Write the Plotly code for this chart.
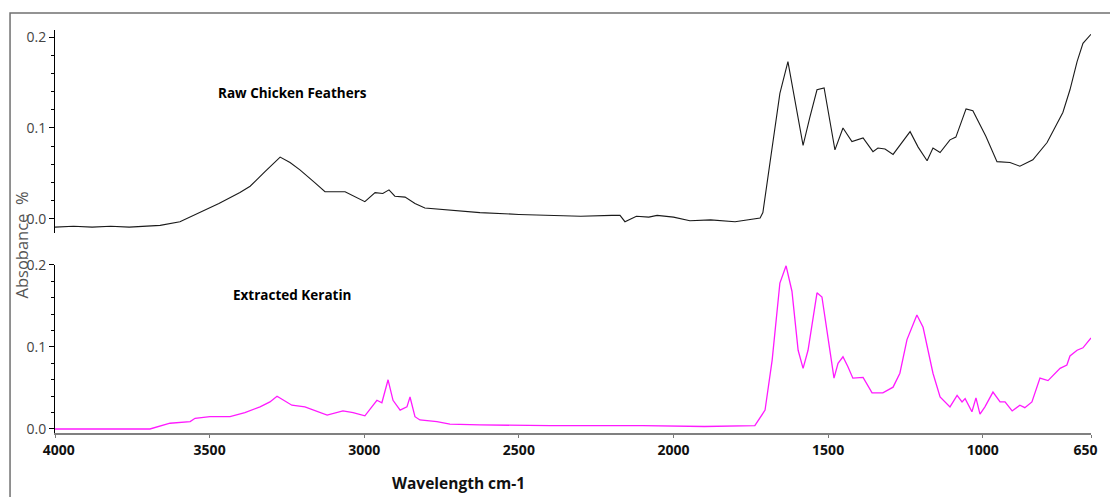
import plotly.graph_objects as go

# ---- Data ----
raw_wn = [4000, 3940, 3880, 3820, 3760, 3700, 3660, 3596, 3531, 3470, 3402, 3369, 3321, 3272,
          3240, 3208, 3160, 3127, 3062, 2998, 2965, 2940, 2920, 2901, 2868, 2836, 2804, 2723,
          2626, 2500, 2399, 2300, 2200, 2173, 2157, 2120, 2080, 2053, 2000, 1947, 1880, 1801,
          1720, 1711, 1688, 1656, 1630, 1601, 1581, 1559, 1536, 1513, 1500, 1478, 1452, 1423,
          1387, 1355, 1339, 1316, 1290, 1261, 1235, 1209, 1180, 1161, 1138, 1106, 1087, 1054,
          1032, 990, 954, 912, 880, 838, 792, 741, 718, 695, 676, 650]
raw_abs = [-0.009, -0.008, -0.009, -0.008, -0.009, -0.008, -0.007, -0.003, 0.007, 0.017, 0.029,
           0.036, 0.052, 0.068, 0.062, 0.054, 0.040, 0.030, 0.030, 0.019, 0.029, 0.028, 0.032,
           0.025, 0.024, 0.017, 0.012, 0.010, 0.007, 0.005, 0.004, 0.003, 0.004, 0.004, -0.003,
           0.003, 0.002, 0.004, 0.002, -0.002, -0.001, -0.003, 0.001, 0.007, 0.062, 0.138,
           0.173, 0.117, 0.081, 0.112, 0.142, 0.144, 0.117, 0.076, 0.100, 0.085, 0.089, 0.074,
           0.078, 0.077, 0.071, 0.084, 0.096, 0.079, 0.064, 0.078, 0.073, 0.087, 0.090, 0.121,
           0.119, 0.091, 0.063, 0.062, 0.058, 0.065, 0.084, 0.117, 0.142, 0.173, 0.193, 0.203]

ker_wn = [4000, 3693, 3628, 3563, 3547, 3499, 3434, 3386, 3337, 3305, 3282, 3234, 3192, 3143,
          3120, 3069, 3036, 2998, 2959, 2943, 2923, 2907, 2884, 2862, 2852, 2836, 2820, 2765,
          2723, 2626, 2400, 2100, 1900, 1737, 1704, 1681, 1656, 1636, 1617, 1597, 1581, 1565,
          1536, 1520, 1500, 1481, 1468, 1452, 1436, 1420, 1387, 1358, 1323, 1290, 1268, 1245,
          1213, 1193, 1161, 1138, 1106, 1083, 1067, 1057, 1035, 1022, 1009, 993, 967, 944, 928,
          905, 880, 864, 841, 815, 789, 750, 728, 718, 695, 676, 650]
ker_abs = [0.0, 0.0, 0.007, 0.009, 0.013, 0.015, 0.015, 0.020, 0.027, 0.033, 0.040, 0.029,
           0.027, 0.020, 0.017, 0.022, 0.020, 0.016, 0.035, 0.032, 0.060, 0.035, 0.023, 0.027,
           0.039, 0.015, 0.011, 0.009, 0.006, 0.005, 0.004, 0.004, 0.003, 0.004, 0.023, 0.084,
           0.178, 0.199, 0.168, 0.096, 0.074, 0.096, 0.166, 0.161, 0.109, 0.062, 0.080, 0.088,
           0.076, 0.062, 0.063, 0.044, 0.044, 0.051, 0.068, 0.109, 0.139, 0.124, 0.068, 0.039,
           0.027, 0.041, 0.033, 0.037, 0.021, 0.038, 0.018, 0.027, 0.045, 0.033, 0.033, 0.022,
           0.029, 0.026, 0.033, 0.062, 0.059, 0.074, 0.078, 0.089, 0.096, 0.099, 0.111]

x_ticks = [4000, 3500, 3000, 2500, 2000, 1500, 1000, 650]
x_ticklabels = ["\u00a0\u00a04000", "3500", "3000", "2500", "2000", "1500", "1000",
                "650\u00a0\u00a0\u00a0"]
y_ticks = [0.0, 0.1, 0.2]
y_ticklabels = ["0.0", "0.1", "0.2"]

# ---- Figure ----
fig = go.Figure()
fig.add_trace(go.Scatter(x=ker_wn, y=ker_abs, mode="lines", xaxis="x", yaxis="y",
                         line=dict(color="#FF1AFF", width=1.3), showlegend=False))
fig.add_trace(go.Scatter(x=raw_wn, y=raw_abs, mode="lines", xaxis="x2", yaxis="y2",
                         line=dict(color="#1a1a1a", width=1.1), showlegend=False))

ytick_common = dict(
    tickvals=y_ticks, ticktext=y_ticklabels, ticks="outside", ticklen=5, tickcolor="#000",
    showline=True, linecolor="#000", linewidth=1, showgrid=False, zeroline=False,
    automargin=False,
    tickfont=dict(family="Open Sans", size=14, color="#444"),
    minor=dict(dtick=0.02, ticks="outside", ticklen=3, tickcolor="#000", showgrid=False),
)

# page body has an 8px margin, so the figure margins are offset by that amount
fig.update_layout(
    width=1118, height=497,
    margin=dict(l=47, r=35, t=22, b=72, autoexpand=False),
    paper_bgcolor="white", plot_bgcolor="white",
    xaxis=dict(range=[4000, 650], tickvals=x_ticks, ticktext=x_ticklabels, ticks="outside",
               ticklen=3, tickcolor="#777", showline=True, linecolor="#808080", linewidth=1.5,
               showgrid=False, zeroline=False, anchor="y", automargin=False,
               tickfont=dict(family="Open Sans", size=14, color="#111", weight="bold")),
    xaxis2=dict(range=[4000, 650], matches="x", visible=False, anchor="y2"),
    yaxis=dict(domain=[0, 0.4169], range=[-0.0049, 0.2], anchor="x", **ytick_common),
    yaxis2=dict(domain=[0.4963, 1], range=[-0.0154, 0.2077], anchor="x2", **ytick_common),
    annotations=[
        dict(text="Raw Chicken Feathers", xref="paper", yref="paper", x=0.2297, y=0.8437,
             xanchor="center", yanchor="middle", showarrow=False,
             font=dict(family="Open Sans", size=13.5, color="#000", weight="bold")),
        dict(text="Extracted Keratin", xref="paper", yref="paper", x=0.2288, y=0.3424,
             xanchor="center", yanchor="middle", showarrow=False,
             font=dict(family="Open Sans", size=13.5, color="#000", weight="bold")),
        dict(text="Wavelength cm-1", xref="paper", yref="paper", x=0.389, y=-0.124,
             xanchor="center", yanchor="middle", showarrow=False,
             font=dict(family="Open Sans", size=15.5, color="#111", weight="bold")),
        dict(text="Absobance  %", xref="paper", yref="paper", x=-0.0333, y=0.4665,
             xanchor="center", yanchor="middle", textangle=-90, showarrow=False, borderpad=0,
             font=dict(family="Open Sans", size=16.5, color="#555")),
    ],
    shapes=[
        dict(type="path", xref="paper", yref="paper",
             path="M -0.0434,-0.2 L -0.0434,1.0422 L 1.1,1.0422",
             line=dict(color="#707070", width=1.5)),
    ],
)

fig.write_html("out.html")
